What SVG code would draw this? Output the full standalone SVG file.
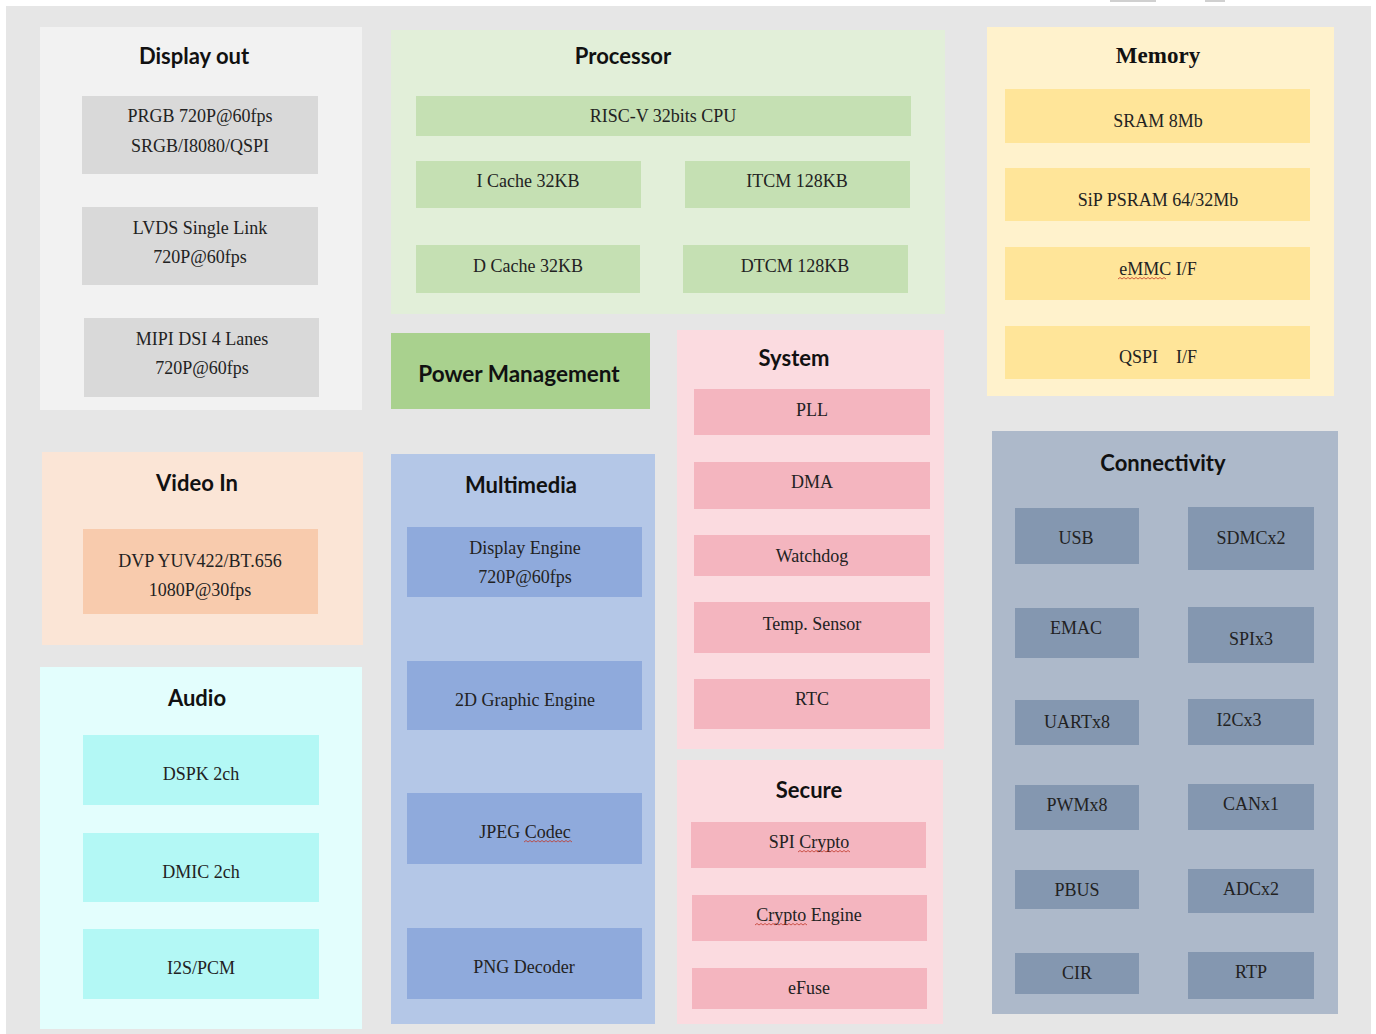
<svg xmlns="http://www.w3.org/2000/svg" width="1376" height="1034" viewBox="0 0 1376 1034">
<style>
.t{font-family:Lato,"Liberation Sans",sans-serif;font-weight:bold;font-size:22px;fill:#111;text-anchor:middle}
.s{font-family:"Liberation Serif",serif;font-size:18px;fill:#222;text-anchor:middle}
.sq{fill:none;stroke:#c0392b;stroke-width:0.8}
</style>
<rect x="0" y="0" width="1376" height="1034" fill="#ffffff"/>
<rect x="6" y="6" width="1365" height="1028" fill="#e6e6e6"/>
<rect x="1110" y="0" width="46" height="2" fill="#d0d0d0"/>
<rect x="1205" y="0" width="20" height="2" fill="#d0d0d0"/>
<g id="connectors"></g>

<g id="display-out">
<rect x="40" y="27" width="322" height="383" fill="#f2f2f2"/>
<text class="t" x="194" y="64">Display out</text>
<rect x="82" y="96" width="236" height="78" fill="#d9d9d9"/>
<text class="s" x="200" y="122">PRGB 720P@60fps</text>
<text class="s" x="200" y="152">SRGB/I8080/QSPI</text>
<rect x="82" y="207" width="236" height="78" fill="#d9d9d9"/>
<text class="s" x="200" y="234">LVDS Single Link</text>
<text class="s" x="200" y="263">720P@60fps</text>
<rect x="84" y="318" width="235" height="79" fill="#d9d9d9"/>
<text class="s" x="202" y="345">MIPI DSI 4 Lanes</text>
<text class="s" x="202" y="374">720P@60fps</text>
</g>

<g id="processor">
<rect x="391" y="30" width="554" height="284" fill="#e2efd9"/>
<text class="t" x="623" y="64">Processor</text>
<rect x="416" y="96" width="495" height="40" fill="#c5e0b3"/>
<text class="s" x="663" y="122">RISC-V 32bits CPU</text>
<rect x="416" y="161" width="225" height="47" fill="#c5e0b3"/>
<text class="s" x="528" y="187">I Cache 32KB</text>
<rect x="685" y="161" width="225" height="47" fill="#c5e0b3"/>
<text class="s" x="797" y="187">ITCM 128KB</text>
<rect x="416" y="245" width="224" height="48" fill="#c5e0b3"/>
<text class="s" x="528" y="272">D Cache 32KB</text>
<rect x="683" y="245" width="225" height="48" fill="#c5e0b3"/>
<text class="s" x="795" y="272">DTCM 128KB</text>
</g>

<g id="memory">
<rect x="987" y="27" width="347" height="369" fill="#fff2cc"/>
<text x="1158" y="63" style="font-family:'Liberation Serif',serif;font-weight:bold;font-size:23px;fill:#111;text-anchor:middle">Memory</text>
<rect x="1005" y="89" width="305" height="54" fill="#ffe599"/>
<text class="s" x="1158" y="127">SRAM 8Mb</text>
<rect x="1005" y="168" width="305" height="53" fill="#ffe599"/>
<text class="s" x="1158" y="206">SiP PSRAM 64/32Mb</text>
<rect x="1005" y="247" width="305" height="53" fill="#ffe599"/>
<text class="s" x="1158" y="275">eMMC I/F</text>
<path class="sq" d="M1118 279 l2 -1.5 l2 1.5 l2 -1.5 l2 1.5 l2 -1.5 l2 1.5 l2 -1.5 l2 1.5 l2 -1.5 l2 1.5 l2 -1.5 l2 1.5 l2 -1.5 l2 1.5 l2 -1.5 l2 1.5 l2 -1.5 l2 1.5 l2 -1.5 l2 1.5 l2 -1.5 l2 1.5 l2 -1.5 l2 1.5"/>
<rect x="1005" y="326" width="305" height="53" fill="#ffe599"/>
<text class="s" x="1158" y="363" xml:space="preserve">QSPI    I/F</text>
</g>

<g id="power-management">
<rect x="391" y="333" width="259" height="76" fill="#a9d18e"/>
<text class="t" x="519" y="382" style="font-size:22.5px">Power Management</text>
</g>

<g id="system">
<rect x="677" y="330" width="267" height="419" fill="#fbdbe0"/>
<text class="t" x="794" y="366">System</text>
<rect x="694" y="389" width="236" height="46" fill="#f4b5bf"/>
<text class="s" x="812" y="416">PLL</text>
<rect x="694" y="462" width="236" height="47" fill="#f4b5bf"/>
<text class="s" x="812" y="488">DMA</text>
<rect x="694" y="535" width="236" height="41" fill="#f4b5bf"/>
<text class="s" x="812" y="562">Watchdog</text>
<rect x="694" y="602" width="236" height="51" fill="#f4b5bf"/>
<text class="s" x="812" y="630">Temp. Sensor</text>
<rect x="694" y="679" width="236" height="50" fill="#f4b5bf"/>
<text class="s" x="812" y="705">RTC</text>
</g>

<g id="secure">
<rect x="677" y="760" width="266" height="264" fill="#fbdbe0"/>
<text class="t" x="809" y="798">Secure</text>
<rect x="691" y="822" width="235" height="46" fill="#f4b5bf"/>
<text class="s" x="809" y="848">SPI Crypto</text>
<path class="sq" d="M798 852 l2 -1.5 l2 1.5 l2 -1.5 l2 1.5 l2 -1.5 l2 1.5 l2 -1.5 l2 1.5 l2 -1.5 l2 1.5 l2 -1.5 l2 1.5 l2 -1.5 l2 1.5 l2 -1.5 l2 1.5 l2 -1.5 l2 1.5 l2 -1.5 l2 1.5 l2 -1.5 l2 1.5 l2 -1.5 l2 1.5 l2 -1.5 l2 1.5"/>
<rect x="692" y="895" width="235" height="46" fill="#f4b5bf"/>
<text class="s" x="809" y="921">Crypto Engine</text>
<path class="sq" d="M755 925 l2 -1.5 l2 1.5 l2 -1.5 l2 1.5 l2 -1.5 l2 1.5 l2 -1.5 l2 1.5 l2 -1.5 l2 1.5 l2 -1.5 l2 1.5 l2 -1.5 l2 1.5 l2 -1.5 l2 1.5 l2 -1.5 l2 1.5 l2 -1.5 l2 1.5 l2 -1.5 l2 1.5 l2 -1.5 l2 1.5 l2 -1.5 l2 1.5"/>
<rect x="692" y="968" width="235" height="41" fill="#f4b5bf"/>
<text class="s" x="809" y="994">eFuse</text>
</g>

<g id="video-in">
<rect x="42" y="452" width="321" height="193" fill="#fbe5d6"/>
<text class="t" x="197" y="491">Video In</text>
<rect x="83" y="529" width="235" height="85" fill="#f8cbad"/>
<text class="s" x="200" y="567">DVP YUV422/BT.656</text>
<text class="s" x="200" y="596">1080P@30fps</text>
</g>

<g id="audio">
<rect x="40" y="667" width="322" height="362" fill="#e3fefd"/>
<text class="t" x="197" y="706">Audio</text>
<rect x="83" y="735" width="236" height="70" fill="#b3f8f5"/>
<text class="s" x="201" y="780">DSPK 2ch</text>
<rect x="83" y="833" width="236" height="69" fill="#b3f8f5"/>
<text class="s" x="201" y="878">DMIC 2ch</text>
<rect x="83" y="929" width="236" height="70" fill="#b3f8f5"/>
<text class="s" x="201" y="974">I2S/PCM</text>
</g>

<g id="multimedia">
<rect x="391" y="454" width="264" height="570" fill="#b4c7e7"/>
<text class="t" x="521" y="493">Multimedia</text>
<rect x="407" y="527" width="235" height="70" fill="#8faadc"/>
<text class="s" x="525" y="554">Display Engine</text>
<text class="s" x="525" y="583">720P@60fps</text>
<rect x="407" y="661" width="235" height="69" fill="#8faadc"/>
<text class="s" x="525" y="706">2D Graphic Engine</text>
<rect x="407" y="793" width="235" height="71" fill="#8faadc"/>
<text class="s" x="525" y="838">JPEG Codec</text>
<path class="sq" d="M524 842 l2 -1.5 l2 1.5 l2 -1.5 l2 1.5 l2 -1.5 l2 1.5 l2 -1.5 l2 1.5 l2 -1.5 l2 1.5 l2 -1.5 l2 1.5 l2 -1.5 l2 1.5 l2 -1.5 l2 1.5 l2 -1.5 l2 1.5 l2 -1.5 l2 1.5 l2 -1.5 l2 1.5 l2 -1.5 l2 1.5"/>
<rect x="407" y="928" width="235" height="71" fill="#8faadc"/>
<text class="s" x="524" y="973">PNG Decoder</text>
</g>

<g id="connectivity">
<rect x="992" y="431" width="346" height="583" fill="#adb9ca"/>
<text class="t" x="1163" y="471">Connectivity</text>
<rect x="1015" y="508" width="124" height="56" fill="#8497b0"/>
<text class="s" x="1076" y="544">USB</text>
<rect x="1188" y="507" width="126" height="63" fill="#8497b0"/>
<text class="s" x="1251" y="544">SDMCx2</text>
<rect x="1015" y="608" width="124" height="50" fill="#8497b0"/>
<text class="s" x="1076" y="634">EMAC</text>
<rect x="1188" y="607" width="126" height="56" fill="#8497b0"/>
<text class="s" x="1251" y="645">SPIx3</text>
<rect x="1015" y="700" width="124" height="45" fill="#8497b0"/>
<text class="s" x="1077" y="728">UARTx8</text>
<rect x="1188" y="699" width="126" height="46" fill="#8497b0"/>
<text class="s" x="1239" y="726">I2Cx3</text>
<rect x="1015" y="785" width="124" height="45" fill="#8497b0"/>
<text class="s" x="1077" y="811">PWMx8</text>
<rect x="1188" y="784" width="126" height="46" fill="#8497b0"/>
<text class="s" x="1251" y="810">CANx1</text>
<rect x="1015" y="870" width="124" height="39" fill="#8497b0"/>
<text class="s" x="1077" y="896">PBUS</text>
<rect x="1188" y="869" width="126" height="44" fill="#8497b0"/>
<text class="s" x="1251" y="895">ADCx2</text>
<rect x="1015" y="953" width="124" height="41" fill="#8497b0"/>
<text class="s" x="1077" y="979">CIR</text>
<rect x="1188" y="952" width="126" height="47" fill="#8497b0"/>
<text class="s" x="1251" y="978">RTP</text>
</g>
</svg>
